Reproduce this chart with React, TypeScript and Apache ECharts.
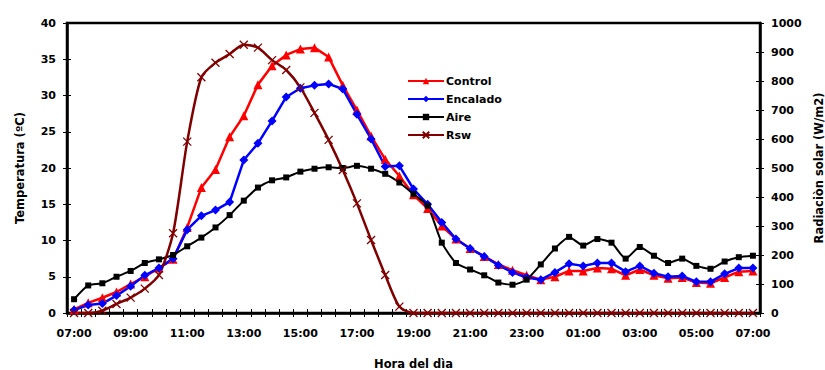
import React, { useEffect, useRef } from "react";
import * as echarts from "echarts";

// Half-hour readings over one full day, 07:00 to 07:00 of the next morning
const horas = [
  "07:00", "07:30", "08:00", "08:30", "09:00", "09:30", "10:00", "10:30",
  "11:00", "11:30", "12:00", "12:30", "13:00", "13:30", "14:00", "14:30",
  "15:00", "15:30", "16:00", "16:30", "17:00", "17:30", "18:00", "18:30",
  "19:00", "19:30", "20:00", "20:30", "21:00", "21:30", "22:00", "22:30",
  "23:00", "23:30", "00:00", "00:30", "01:00", "01:30", "02:00", "02:30",
  "03:00", "03:30", "04:00", "04:30", "05:00", "05:30", "06:00", "06:30",
  "07:00",
];

// Temperatures (ºC)
const control = [
  0.5, 1.4, 2.1, 2.9, 4.0, 5.0, 6.2, 7.4, 11.8, 17.3, 19.8, 24.3, 27.2, 31.5,
  34.1, 35.6, 36.4, 36.6, 35.3, 31.4, 28.0, 24.4, 21.2, 18.9, 16.3, 14.4, 12.0,
  10.2, 8.9, 7.8, 6.7, 5.9, 5.2, 4.6, 5.0, 5.8, 5.8, 6.2, 6.1, 5.2, 6.0, 5.2,
  4.8, 4.9, 4.2, 4.1, 4.9, 5.7, 5.8,
];
const encalado = [
  0.4, 1.1, 1.3, 2.4, 3.7, 5.2, 6.2, 7.5, 11.5, 13.4, 14.2, 15.3, 21.1, 23.4,
  26.5, 29.8, 31.0, 31.4, 31.6, 30.9, 27.4, 24.0, 20.2, 20.3, 17.1, 15.0, 12.5,
  10.2, 8.9, 7.8, 6.6, 5.6, 4.9, 4.6, 5.6, 6.8, 6.5, 6.9, 6.9, 5.7, 6.5, 5.5,
  5.0, 5.1, 4.3, 4.3, 5.4, 6.2, 6.2,
];
const aire = [
  1.9, 3.8, 4.1, 5.0, 5.8, 6.9, 7.4, 8.0, 9.2, 10.4, 11.8, 13.5, 15.5, 17.3,
  18.3, 18.7, 19.5, 19.9, 20.1, 20.0, 20.3, 19.9, 19.2, 18.0, 16.4, 14.8, 9.7,
  6.9, 6.0, 5.2, 4.2, 3.9, 4.6, 6.7, 8.9, 10.5, 9.3, 10.2, 9.7, 7.5, 9.1, 7.9,
  6.9, 7.5, 6.5, 6.1, 7.1, 7.7, 7.9,
];
// Solar radiation (W/m2)
const rsw = [
  0, 0, 8, 31, 53, 84, 131, 275, 591, 813, 863, 893, 925, 915, 872, 838, 778,
  690, 597, 493, 378, 252, 131, 22, 0, 0, 0, 0, 0, 0, 0, 0, 0, 0, 0, 0, 0, 0, 0,
  0, 0, 0, 0, 0, 0, 0, 0, 0, 0,
];

const FONT = "DejaVu Sans";
const CROSS = "path://M0,0L8,8M8,0L0,8";

export default function App() {
  const ref = useRef<HTMLDivElement>(null);

  useEffect(() => {
    if (!ref.current) return;
    const chart = echarts.init(ref.current, null, { renderer: "svg" });

    const label = { fontFamily: FONT, fontWeight: "bold" as const, fontSize: 11, color: "#000" };
    const name = { fontFamily: FONT, fontWeight: "bold" as const, fontSize: 11.5, color: "#000" };
    const axisLine = { show: true, lineStyle: { color: "#000", width: 2.5 } };
    const tick = (inside: boolean) => ({
      show: true,
      inside,
      length: 4,
      lineStyle: { color: "#000", width: 1 },
    });
    const plain = (v: number) => String(v);

    chart.setOption({
      animation: false,
      backgroundColor: "#fff",
      grid: {
        left: 67,
        right: 65,
        top: 23,
        bottom: 57,
        containLabel: false,
        outerBoundsMode: "none",
        show: true,
        borderColor: "#000",
        borderWidth: 2.5,
      },
      legend: {
        orient: "vertical",
        left: 407,
        top: 75,
        padding: 0,
        itemWidth: 36,
        itemHeight: 8,
        itemGap: 6,
        textStyle: { ...label, lineHeight: 12, padding: [0, 0, 0, -3] },
        data: ["Control", "Encalado", "Aire", "Rsw"],
      },
      xAxis: [
        {
          type: "category",
          data: horas,
          boundaryGap: true,
          position: "bottom",
          name: "Hora del dìa",
          nameLocation: "middle",
          nameGap: 45,
          nameTextStyle: name,
          axisLine,
          axisTick: { ...tick(false), interval: 0 },
          axisLabel: { ...label, interval: 3, margin: 15 },
          splitLine: { show: false },
        },
        {
          type: "category",
          data: horas,
          boundaryGap: true,
          position: "bottom",
          offset: 0,
          axisLine: { show: false },
          axisTick: { ...tick(true), interval: 0 },
          axisLabel: { show: false },
          splitLine: { show: false },
        },
      ],
      yAxis: [
        {
          type: "value",
          position: "left",
          min: 0,
          max: 40,
          interval: 5,
          name: "Temperatura (ºC)",
          nameLocation: "middle",
          nameRotate: 90,
          nameGap: 41,
          nameTextStyle: name,
          axisLine,
          axisTick: tick(false),
          axisLabel: { ...label, margin: 11, formatter: plain },
          splitLine: { show: false },
        },
        {
          type: "value",
          position: "right",
          min: 0,
          max: 1000,
          interval: 100,
          name: "Radiaciòn solar (W/m2)",
          nameLocation: "middle",
          nameRotate: 90,
          nameGap: 51,
          nameTextStyle: name,
          axisLine,
          axisTick: tick(false),
          axisLabel: { ...label, margin: 11, formatter: plain },
          splitLine: { show: false },
        },
        {
          type: "value",
          position: "left",
          offset: 0,
          min: 0,
          max: 40,
          interval: 5,
          axisLine: { show: false },
          axisTick: tick(true),
          axisLabel: { show: false },
          splitLine: { show: false },
        },
        {
          type: "value",
          position: "right",
          offset: 0,
          min: 0,
          max: 1000,
          interval: 100,
          axisLine: { show: false },
          axisTick: tick(true),
          axisLabel: { show: false },
          splitLine: { show: false },
        },
      ],
      series: [
        {
          name: "Control",
          type: "line",
          data: control,
          yAxisIndex: 0,
          symbol: "triangle",
          symbolSize: 9,
          lineStyle: { color: "#ff0000", width: 2.5 },
          itemStyle: { color: "#ff0000" },
        },
        {
          name: "Encalado",
          type: "line",
          data: encalado,
          yAxisIndex: 0,
          symbol: "diamond",
          symbolSize: 9,
          lineStyle: { color: "#0000ff", width: 2.5 },
          itemStyle: { color: "#0000ff" },
        },
        {
          name: "Aire",
          type: "line",
          data: aire,
          yAxisIndex: 0,
          symbol: "rect",
          symbolSize: 6,
          smooth: 0.2,
          lineStyle: { color: "#000", width: 2 },
          itemStyle: { color: "#000" },
        },
        {
          name: "Rsw",
          type: "line",
          data: rsw,
          yAxisIndex: 1,
          symbol: CROSS,
          symbolSize: 8,
          smooth: 0.25,
          lineStyle: { color: "#800000", width: 2.5 },
          itemStyle: { color: "#800000", borderColor: "#800000", borderWidth: 1.3 },
        },
      ],
    });

    return () => chart.dispose();
  }, []);

  return (
    <div
      ref={ref}
      style={{ position: "fixed", left: 0, top: 0, width: 825, height: 370, background: "#fff" }}
    />
  );
}
